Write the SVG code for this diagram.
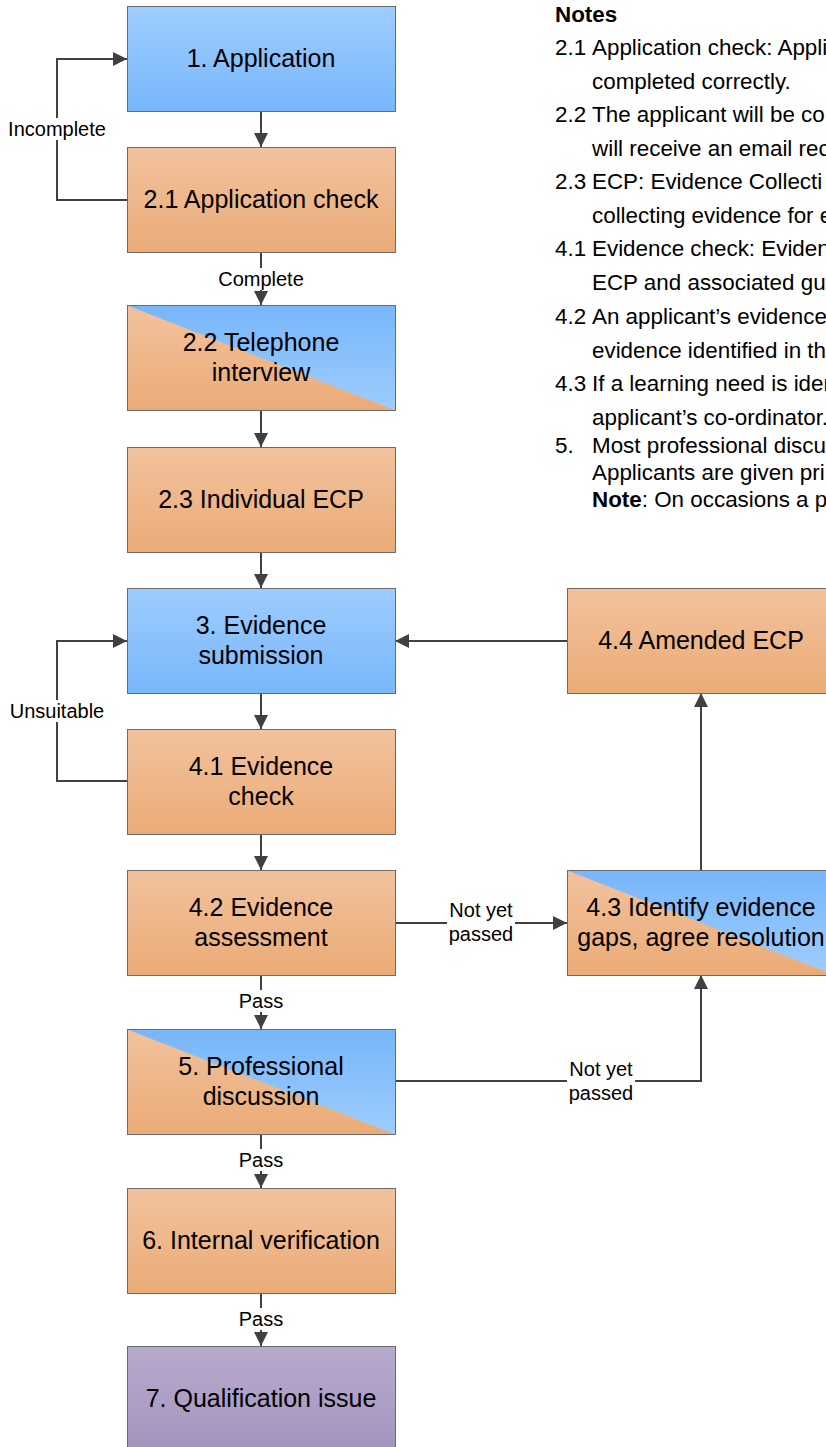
<svg xmlns="http://www.w3.org/2000/svg" width="826" height="1447" viewBox="0 0 826 1447">
<style>
.bx{stroke:#6b6b6b;stroke-width:1}
.bt{font-family:"Liberation Sans",Arial,sans-serif;font-size:25px;fill:#000;text-anchor:middle}
.lb{font-family:"Liberation Sans",Arial,sans-serif;font-size:20px;fill:#000;text-anchor:middle}
.nt{font-family:"Liberation Sans",Arial,sans-serif;font-size:22.4px;fill:#000}
.cn{fill:none;stroke:#404040;stroke-width:2}
</style>
<defs>
<linearGradient id="gB" x1="0" y1="0" x2="0" y2="1"><stop offset="0" stop-color="#9ECDFE"/><stop offset="1" stop-color="#77B6FA"/></linearGradient>
<linearGradient id="gBr" x1="0" y1="0" x2="0" y2="1"><stop offset="0" stop-color="#77B6FA"/><stop offset="1" stop-color="#9ECDFE"/></linearGradient>
<linearGradient id="gO" x1="0" y1="0" x2="0" y2="1"><stop offset="0" stop-color="#F2C29D"/><stop offset="1" stop-color="#EBAB77"/></linearGradient>
<linearGradient id="gP" x1="0" y1="0" x2="0" y2="1"><stop offset="0" stop-color="#B8AACD"/><stop offset="1" stop-color="#A394BF"/></linearGradient>
<marker id="ar" markerUnits="userSpaceOnUse" markerWidth="14" markerHeight="14" viewBox="0 0 10 10" refX="10" refY="5" orient="auto"><path d="M0,0 L10,5 L0,10 z" fill="#404040"/></marker>
</defs>
<rect width="826" height="1447" fill="#fff"/>

<g id="connectors">
<line class="cn" x1="261" y1="111" x2="261" y2="147" marker-end="url(#ar)"/>
<polyline class="cn" points="127,200 57,200 57,59 127,59" marker-end="url(#ar)"/>
<line class="cn" x1="261" y1="252" x2="261" y2="305" marker-end="url(#ar)"/>
<line class="cn" x1="261" y1="410" x2="261" y2="447" marker-end="url(#ar)"/>
<line class="cn" x1="261" y1="552" x2="261" y2="588" marker-end="url(#ar)"/>
<line class="cn" x1="261" y1="693" x2="261" y2="729" marker-end="url(#ar)"/>
<polyline class="cn" points="127,781 57,781 57,641 127,641" marker-end="url(#ar)"/>
<line class="cn" x1="261" y1="834" x2="261" y2="870" marker-end="url(#ar)"/>
<line class="cn" x1="261" y1="975" x2="261" y2="1029" marker-end="url(#ar)"/>
<line class="cn" x1="395" y1="923" x2="567" y2="923" marker-end="url(#ar)"/>
<polyline class="cn" points="395,1081 701,1081 701,975" marker-end="url(#ar)"/>
<line class="cn" x1="701" y1="870" x2="701" y2="693" marker-end="url(#ar)"/>
<line class="cn" x1="567" y1="641" x2="395" y2="641" marker-end="url(#ar)"/>
<line class="cn" x1="261" y1="1134" x2="261" y2="1188" marker-end="url(#ar)"/>
<line class="cn" x1="261" y1="1293" x2="261" y2="1346" marker-end="url(#ar)"/>
<g id="labels">
<rect x="6" y="118" width="104" height="22" fill="#fff"/>
<text class="lb" x="57" y="136">Incomplete</text>
<rect x="215" y="268" width="94" height="22" fill="#fff"/>
<text class="lb" x="261" y="286">Complete</text>
<rect x="6" y="700" width="102" height="22" fill="#fff"/>
<text class="lb" x="57" y="718">Unsuitable</text>
<rect x="237" y="990" width="48" height="22" fill="#fff"/>
<text class="lb" x="261" y="1008">Pass</text>
<rect x="237" y="1149" width="48" height="22" fill="#fff"/>
<text class="lb" x="261" y="1167">Pass</text>
<rect x="237" y="1308" width="48" height="22" fill="#fff"/>
<text class="lb" x="261" y="1326">Pass</text>
<rect x="447" y="899" width="68" height="46" fill="#fff"/>
<text class="lb" x="481" y="917">Not yet</text>
<text class="lb" x="481" y="941">passed</text>
<rect x="567" y="1058" width="68" height="46" fill="#fff"/>
<text class="lb" x="601" y="1076">Not yet</text>
<text class="lb" x="601" y="1100">passed</text>
</g>
</g>

<g id="n1"><rect class="bx" x="127.5" y="6.5" width="268" height="105" fill="url(#gB)"/><text class="bt" x="261" y="67">1. Application</text></g>
<g id="n21"><rect class="bx" x="127.5" y="147.5" width="268" height="105" fill="url(#gO)"/><text class="bt" x="261" y="208">2.1 Application check</text></g>
<g id="n22"><rect x="127.5" y="305.5" width="268" height="105" fill="url(#gO)"/><polygon points="127.5,305.5 395.5,305.5 395.5,410.5" fill="url(#gBr)"/><rect class="bx" x="127.5" y="305.5" width="268" height="105" fill="none"/><text class="bt" x="261" y="351">2.2 Telephone</text><text class="bt" x="261" y="381">interview</text></g>
<g id="n23"><rect class="bx" x="127.5" y="447.5" width="268" height="105" fill="url(#gO)"/><text class="bt" x="261" y="508">2.3 Individual ECP</text></g>
<g id="n3"><rect class="bx" x="127.5" y="588.5" width="268" height="105" fill="url(#gB)"/><text class="bt" x="261" y="634">3. Evidence</text><text class="bt" x="261" y="664">submission</text></g>
<g id="n41"><rect class="bx" x="127.5" y="729.5" width="268" height="105" fill="url(#gO)"/><text class="bt" x="261" y="775">4.1 Evidence</text><text class="bt" x="261" y="805">check</text></g>
<g id="n42"><rect class="bx" x="127.5" y="870.5" width="268" height="105" fill="url(#gO)"/><text class="bt" x="261" y="916">4.2 Evidence</text><text class="bt" x="261" y="946">assessment</text></g>
<g id="n5"><rect x="127.5" y="1029.5" width="268" height="105" fill="url(#gO)"/><polygon points="127.5,1029.5 395.5,1029.5 395.5,1134.5" fill="url(#gBr)"/><rect class="bx" x="127.5" y="1029.5" width="268" height="105" fill="none"/><text class="bt" x="261" y="1075">5. Professional</text><text class="bt" x="261" y="1105">discussion</text></g>
<g id="n6"><rect class="bx" x="127.5" y="1188.5" width="268" height="105" fill="url(#gO)"/><text class="bt" x="261" y="1249">6. Internal verification</text></g>
<g id="n7"><rect class="bx" x="127.5" y="1346.5" width="268" height="105" fill="url(#gP)"/><text class="bt" x="261" y="1407">7. Qualification issue</text></g>
<g id="n44"><rect class="bx" x="567.5" y="588.5" width="268" height="105" fill="url(#gO)"/><text class="bt" x="701" y="649">4.4 Amended ECP</text></g>
<g id="n43"><rect x="567.5" y="870.5" width="268" height="105" fill="url(#gO)"/><polygon points="567.5,870.5 835.5,870.5 835.5,975.5" fill="url(#gBr)"/><rect class="bx" x="567.5" y="870.5" width="268" height="105" fill="none"/><text class="bt" x="701" y="916">4.3 Identify evidence</text><text class="bt" x="701" y="946">gaps, agree resolution</text></g>

<g id="notes">
<text class="nt" x="555" y="22" font-weight="bold">Notes</text>
<text class="nt" x="555" y="55">2.1</text><text class="nt" x="592" y="55">Application check: Appli</text>
<text class="nt" x="592" y="89">completed correctly.</text>
<text class="nt" x="555" y="122">2.2</text><text class="nt" x="592" y="122">The applicant will be co</text>
<text class="nt" x="592" y="156">will receive an email rec</text>
<text class="nt" x="555" y="189">2.3</text><text class="nt" x="592" y="189">ECP: Evidence Collecti</text>
<text class="nt" x="592" y="223">collecting evidence for e</text>
<text class="nt" x="555" y="256">4.1</text><text class="nt" x="592" y="256">Evidence check: Eviden</text>
<text class="nt" x="592" y="290">ECP and associated gu</text>
<text class="nt" x="555" y="324">4.2</text><text class="nt" x="592" y="324">An applicant’s evidence</text>
<text class="nt" x="592" y="358">evidence identified in th</text>
<text class="nt" x="555" y="391">4.3</text><text class="nt" x="592" y="391">If a learning need is iden</text>
<text class="nt" x="592" y="425">applicant’s co-ordinator.</text>
<text class="nt" x="555" y="453">5.</text><text class="nt" x="592" y="453">Most professional discu</text>
<text class="nt" x="592" y="480">Applicants are given pri</text>
<text class="nt" x="592" y="507"><tspan font-weight="bold">Note</tspan>: On occasions a p</text>
</g>
</svg>
